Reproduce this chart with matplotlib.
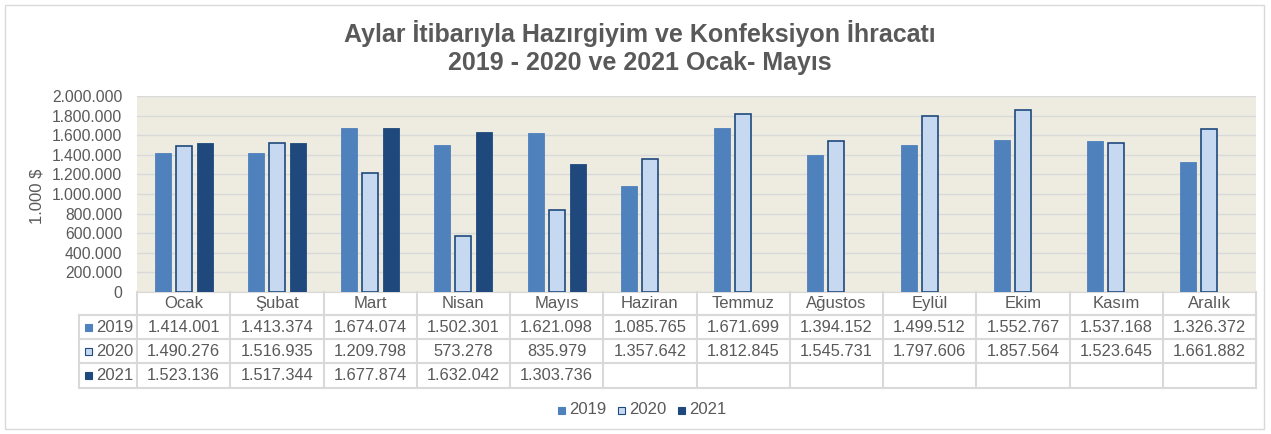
import matplotlib
matplotlib.use("Agg")
import matplotlib.pyplot as plt
from matplotlib.lines import Line2D
from matplotlib.patches import Rectangle
import numpy as np

plt.rcParams['font.family'] = ['Liberation Sans', 'DejaVu Sans']

months = ["Ocak", "Şubat", "Mart", "Nisan", "Mayıs", "Haziran", "Temmuz",
          "Ağustos", "Eylül", "Ekim", "Kasım", "Aralık"]
series_names = ["2019", "2020", "2021"]
v2019 = [1414001, 1413374, 1674074, 1502301, 1621098, 1085765, 1671699,
         1394152, 1499512, 1552767, 1537168, 1326372]
v2020 = [1490276, 1516935, 1209798, 573278, 835979, 1357642, 1812845,
         1545731, 1797606, 1857564, 1523645, 1661882]
v2021 = [1523136, 1517344, 1677874, 1632042, 1303736]
yticks = [0, 200000, 400000, 600000, 800000, 1000000, 1200000, 1400000,
          1600000, 1800000, 2000000]

title = "Aylar İtibarıyla Hazırgiyim ve Konfeksiyon İhracatı\n2019 - 2020 ve 2021 Ocak- Mayıs"
ylabel = "1.000 $"

face = ["#4F81BD", "#C6D9F1", "#1F497D"]
edge = ["#4F81BD", "#1F497D", "#1F497D"]
txt = "#595959"
gridc = "#D9D9D9"

W, H = 1271, 434
fig = plt.figure(figsize=(W / 100, H / 100), dpi=100)

def fx(x):
    return x / W

def fy(y):
    return 1 - y / H

# outer border
fig.patches.append(Rectangle((fx(5), fy(429)), fx(1264) - fx(5), fy(5) - fy(429),
                             transform=fig.transFigure, fill=False,
                             edgecolor="#D9D9D9", linewidth=1))

L, R, T, B = 137, 1256, 96, 292
ax = fig.add_axes([fx(L), fy(B), fx(R) - fx(L), fy(T) - fy(B)])
ax.set_facecolor("#EEECE1")
ax.set_xlim(0, 12)
ax.set_ylim(0, 2000000)
ax.set_yticks(yticks)
ax.set_yticklabels([f"{t:,}".replace(",", ".") for t in yticks], color=txt, fontsize=11.3)
ax.tick_params(axis='y', length=0, pad=10.5)
ax.set_xticks([])
ax.grid(axis='y', color=gridc, linewidth=1)
ax.set_axisbelow(True)
for s in ["top", "right", "left"]:
    ax.spines[s].set_visible(False)
ax.spines["bottom"].set_color(gridc)

bw = 0.17
offs = [-0.225, 0.0, 0.225]
for i, vals in enumerate([v2019, v2020, v2021]):
    x = np.arange(len(vals)) + 0.5 + offs[i]
    ax.bar(x, vals, width=bw, color=face[i], edgecolor=edge[i],
           linewidth=1.2 if i == 1 else 0.6, zorder=3)

fig.text(fx(37), fy(196), ylabel, rotation=90, ha="center", va="center",
         color=txt, fontsize=12)

fig.text(0.5035, fy(47.5), title, ha="center", va="center", fontsize=18,
         fontweight="bold", color=txt, linespacing=1.2)

# table
rows_y = [292, 315, 339, 363, 388]
colw = (R - L) / 12
lc = gridc
lw = 1.5
fig.add_artist(Line2D([fx(L), fx(R)], [fy(315), fy(315)], color=lc, lw=lw))
for y in rows_y[1:]:
    fig.add_artist(Line2D([fx(79), fx(R)], [fy(y), fy(y)], color=lc, lw=lw))
for k in range(13):
    x = L + k * colw
    fig.add_artist(Line2D([fx(x), fx(x)], [fy(292), fy(388)], color=lc, lw=lw))
fig.add_artist(Line2D([fx(79), fx(79)], [fy(315), fy(388)], color=lc, lw=lw))

for k, m in enumerate(months):
    fig.text(fx(L + (k + 0.5) * colw), fy(303.5), m, ha="center", va="center",
             fontsize=12, color=txt)

all_vals = [v2019, v2020, v2021]
for r in range(3):
    yc = (rows_y[r + 1] + rows_y[r + 2]) / 2
    fig.patches.append(Rectangle((fx(85), fy(yc + 3.5)), fx(7), fy(0) - fy(7),
                                 transform=fig.transFigure, facecolor=face[r],
                                 edgecolor=edge[r], linewidth=0.8))
    fig.text(fx(96), fy(yc), series_names[r], ha="left", va="center",
             fontsize=12, color=txt)
    for k, v in enumerate(all_vals[r]):
        fig.text(fx(L + (k + 0.5) * colw), fy(yc), f"{v:,}".replace(",", "."),
                 ha="center", va="center", fontsize=11.8, color=txt)

# legend
lx = [558, 618, 678]
for i, name in enumerate(series_names):
    fig.patches.append(Rectangle((fx(lx[i]), fy(413.5)), fx(7), fy(0) - fy(7),
                                 transform=fig.transFigure, facecolor=face[i],
                                 edgecolor=edge[i], linewidth=0.8))
    fig.text(fx(lx[i] + 11), fy(410), name, ha="left", va="center",
             fontsize=12, color=txt)

fig.savefig("out.png", dpi=100)
